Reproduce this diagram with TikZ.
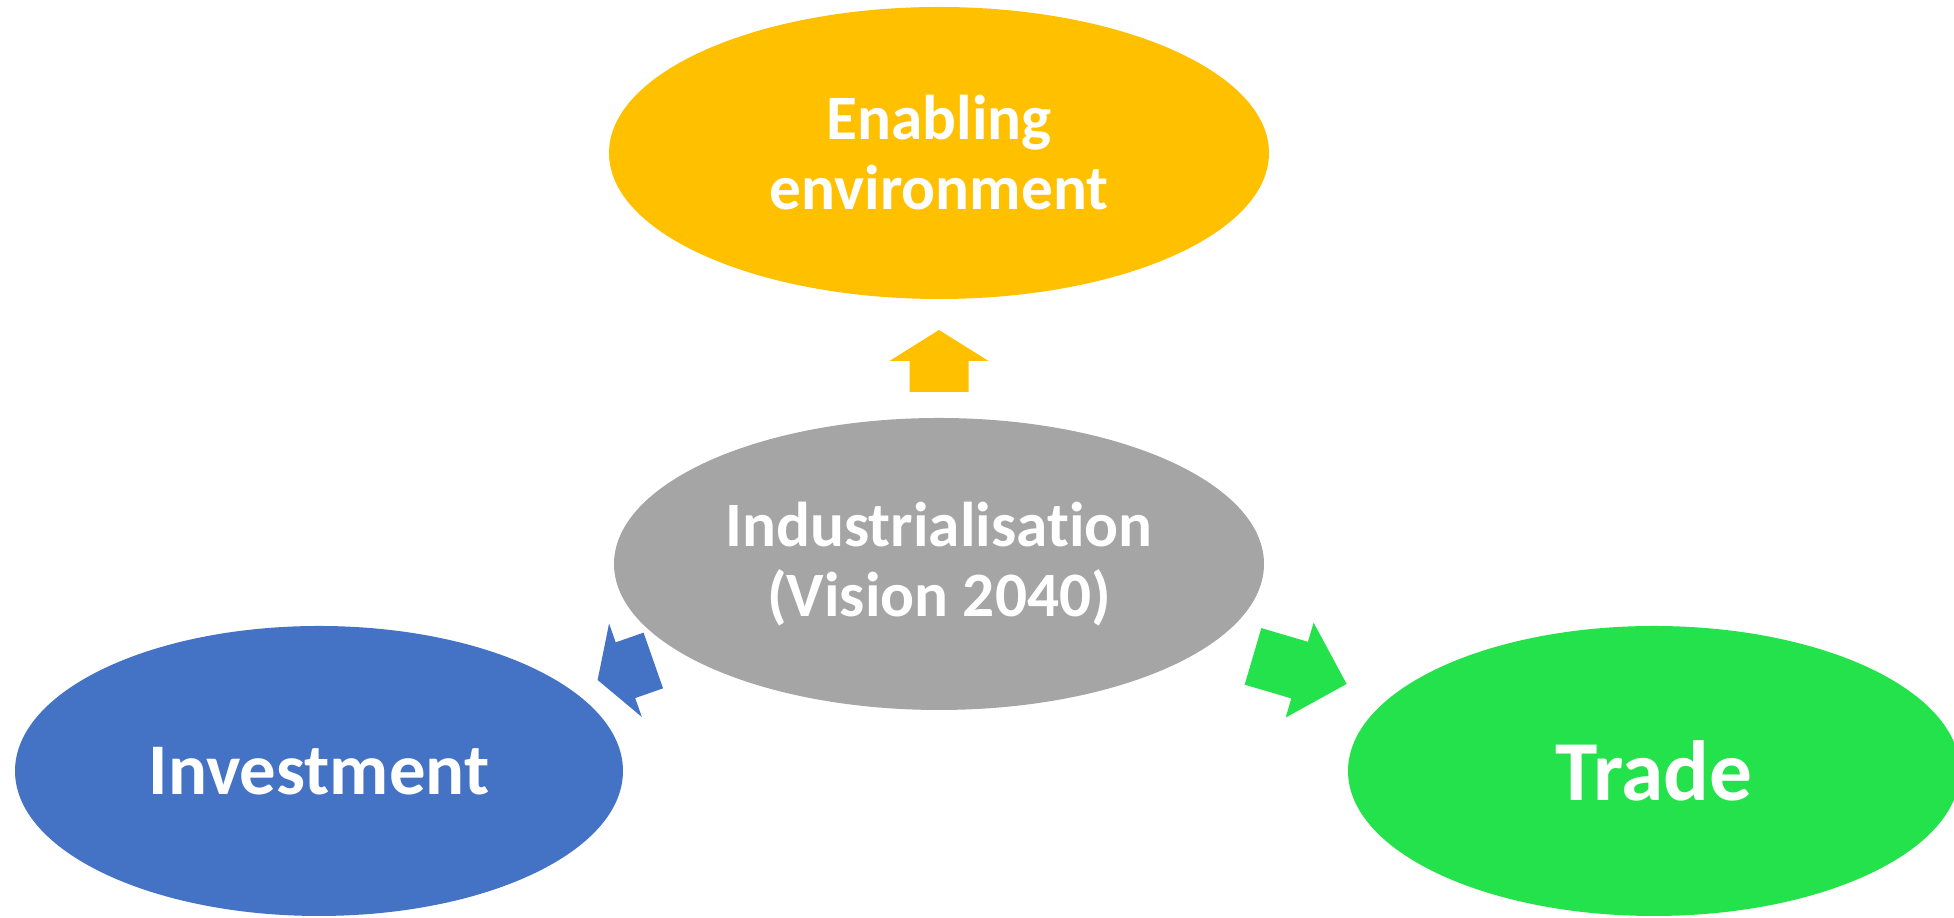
\documentclass[tikz,border=0pt]{standalone}
\usepackage{fontspec}
\setmainfont{Carlito}[Ligatures=CommonOff]
\usetikzlibrary{shapes.geometric}

\definecolor{envyellow}{RGB}{255,192,0}
\definecolor{indgray}{RGB}{165,165,165}
\definecolor{invblue}{RGB}{68,114,196}
\definecolor{tradegreen}{RGB}{36,226,75}

\tikzset{
	blob/.style={ellipse, inner sep=0pt, text=white, align=center},
}
% block arrow: style, foot, angle, shaft length, head length
\newcommand{\blockarrow}[5]{%
	\fill[#1, shift={(#2)}, rotate=#3] (0,-29.5) -- ++(#4,0) -- ++(0,-20) -- ++(#5,49.5) -- ++(-#5,49.5) -- ++(0,-20) -- ++(-#4,0) -- cycle;}

\begin{document}
\begin{tikzpicture}[x=0.1mm, y=0.1mm]
	\useasboundingbox (0,0) rectangle (1954,918);
	
	%ellipses
	\node[blob, fill=envyellow, minimum width=66mm, minimum height=29.2mm, font=\fontsize{18}{19.9}\selectfont\bfseries] (env) at (939,765) {Enabling\\environment};
	\node[blob, fill=indgray, minimum width=65mm, minimum height=29.2mm, font=\fontsize{18}{19.9}\selectfont\bfseries] (ind) at (939,354) {Industrialisation\\(Vision 2040)};
	\node[blob, fill=invblue, minimum width=60.8mm, minimum height=29mm, font=\fontsize{20.7}{24}\selectfont\bfseries] (inv) at (319,147) {Investment};
	\node[blob, fill=tradegreen, minimum width=61.2mm, minimum height=29mm, font=\fontsize{24.3}{28}\selectfont\bfseries] (trade) at (1654,147) {Trade};
	
	%arrows
	\coordinate (upfoot) at (939,526);
	\coordinate (invfoot) at (653.3,257.5);
	\coordinate (tradefoot) at (1253,261.6);
	\blockarrow{envyellow}{upfoot}{90}{31}{31}
	\blockarrow{invblue}{invfoot}{199.3}{29.5}{29.5}
	\blockarrow{tradegreen}{tradefoot}{-16.4}{48.6}{49}
	
\end{tikzpicture}
\end{document}
